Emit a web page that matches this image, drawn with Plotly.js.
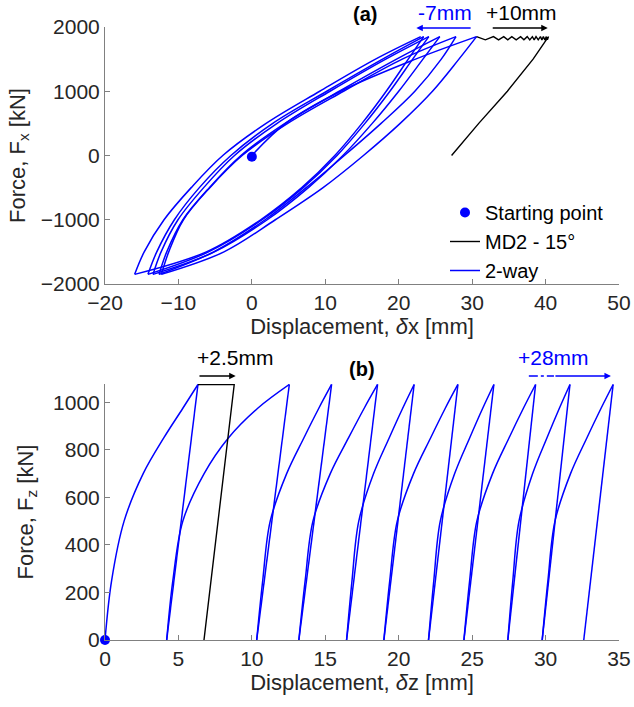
<!DOCTYPE html>
<html>
<head>
<meta charset="utf-8">
<script src="https://cdn.plot.ly/plotly-3.0.1.min.js"></script>
<style>
  html, body { margin: 0; padding: 0; background: #fff; }
  #chart { width: 634px; height: 707px; }
</style>
</head>
<body>
<div id="chart"></div>
<script>
// ---------------- Panel (a): horizontal force vs displacement ----------------
// Initial loading from the starting point
const fxInitLevels = [0, 500, 1000, 1500, 1850];
const dxInit = [0, 4.6, 12.1, 22.3, 30.6];
// Unloading branches (top tip -> bottom tip): displacement at each force level
const fxUnloadLevels = [1850, 1500, 1000, 500, 0, -500, -1000, -1500, -1850];
const dxUnload1 = [30.6, 28.2, 24.6, 20.2, 15.2, 9.7, 3.2, -3.8, -12.32];
const dxUnload2 = [27.8, 25.8, 22.2, 17.6, 12.6, 7.4, 1.8, -5.2, -12.64];
const dxUnload3 = [25.6, 23.3, 20.0, 16.4, 12.4, 7.7, 2.1, -5.1, -13.46];
const dxUnload4 = [24.1, 21.9, 18.8, 15.4, 11.6, 7.0, 1.4, -5.9, -14.15];
const dxUnload5 = [23.4, 21.3, 18.3, 15.0, 11.3, 6.8, 1.2, -6.2, -15.96];
// Reloading branches (bottom tip -> next top tip)
const fxLoadLevels = [-1850, -1500, -1000, -500, 0, 500, 1000, 1500, 1850];
const dxLoad2 = [-12.32, -11.32, -9.32, -5.72, -1.32, 4.88, 12.48, 20.48, 27.8];
const dxLoad3 = [-12.64, -11.59, -9.39, -5.79, -1.49, 4.51, 11.91, 19.71, 25.6];
const dxLoad4 = [-13.46, -12.36, -10.06, -6.56, -2.36, 3.44, 10.64, 18.24, 24.1];
const dxLoad5 = [-14.15, -12.95, -10.55, -7.15, -2.85, 2.85, 10.2, 17.8, 23.4];
const dxLoad6 = [-15.96, -14.66, -11.96, -8.26, -3.96, 1.94, 9.24, 16.84, 23.0];
// MD2 - 15° : ratcheting sawtooth at peak force, then unloading
const dxMD2 = [30.6, 31.8, 32.9, 33.6, 34.3, 34.85, 35.4, 36.0, 36.6, 37.05, 37.5, 37.85,
               38.2, 38.45, 38.7, 39.0, 39.3, 39.5, 39.7, 39.9, 40.1, 40.25, 40.4,
               38.3, 34.8, 30.9, 27.2];
const fxMD2 = [1850, 1800, 1850, 1800, 1850, 1800, 1850, 1800, 1850, 1800, 1850, 1800,
               1850, 1800, 1850, 1800, 1850, 1800, 1850, 1800, 1850, 1800, 1850,
               1500, 1000, 500, 0];
const startA = {x: [0], y: [-20]};

// ---------------- Panel (b): vertical force vs displacement ----------------
const fzLevels = [0, 250, 500, 700, 850, 975, 1075];
const fzTop = 1075;
const dzTips = [6.33, 12.55, 15.43, 18.56, 21.05, 24.03, 26.48, 29.32, 31.66, 34.6];
const dzBottoms = [0, 4.2, 10.33, 13.2, 16.45, 18.99, 22.03, 24.44, 27.43, 29.77, 32.6];
const dzLoad0 = [0, 0.45, 1.3, 2.6, 4.0, 5.3, 6.33];
const dzLoad1 = [4.2, 4.62, 5.3, 6.75, 8.4, 10.4, 12.55];
const dzLoad2 = [10.33, 10.74, 11.25, 12.37, 13.54, 14.56, 15.43];
const dzLoad3 = [13.2, 13.63, 14.16, 15.34, 16.58, 17.65, 18.56];
const dzLoad4 = [16.45, 16.82, 17.28, 18.29, 19.35, 20.27, 21.05];
const dzLoad5 = [18.99, 19.39, 19.9, 21.01, 22.17, 23.17, 24.03];
const dzLoad6 = [22.03, 22.39, 22.83, 23.81, 24.83, 25.72, 26.48];
const dzLoad7 = [24.44, 24.83, 25.32, 26.39, 27.51, 28.49, 29.32];
const dzLoad8 = [27.43, 27.77, 28.19, 29.12, 30.09, 30.94, 31.66];
const dzLoad9 = [29.77, 30.16, 30.64, 31.7, 32.81, 33.78, 34.6];
const dzMD2 = [6.33, 8.8, 6.74];
const fzMD2 = [1075, 1075, 0];
const startB = {x: [0], y: [0]};

// ---------------- Build paths ----------------
function appendSeg(path, xs, ys) {
  if (path.x.length) { path.x.push(null); path.y.push(null); }
  for (let i = 0; i < xs.length; i++) { path.x.push(xs[i]); path.y.push(ys[i]); }
}
const pathA = {x: [], y: []};
appendSeg(pathA, dxInit, fxInitLevels);
const unloads = [dxUnload1, dxUnload2, dxUnload3, dxUnload4, dxUnload5];
const loads = [dxLoad2, dxLoad3, dxLoad4, dxLoad5, dxLoad6];
for (let k = 0; k < unloads.length; k++) {
  appendSeg(pathA, unloads[k], fxUnloadLevels);
  appendSeg(pathA, loads[k], fxLoadLevels);
}
const pathB = {x: [], y: []};
const loadsZ = [dzLoad0, dzLoad1, dzLoad2, dzLoad3, dzLoad4, dzLoad5, dzLoad6, dzLoad7, dzLoad8, dzLoad9];
for (let k = 0; k < loadsZ.length; k++) {
  appendSeg(pathB, loadsZ[k], fzLevels);
  appendSeg(pathB, [dzTips[k], dzBottoms[k + 1]], [fzTop, 0]);
}

const BLUE = '#0000ff';
const traces = [
  {x: pathA.x, y: pathA.y, xaxis: 'x', yaxis: 'y', mode: 'lines', name: '2-way',
   line: {color: BLUE, width: 1.5, shape: 'spline', smoothing: 1}, connectgaps: false,
   legendrank: 3, hoverinfo: 'skip'},
  {x: dxMD2, y: fxMD2, xaxis: 'x', yaxis: 'y', mode: 'lines', name: 'MD2 - 15°',
   line: {color: '#000000', width: 1.4}, legendrank: 2, hoverinfo: 'skip'},
  {x: startA.x, y: startA.y, xaxis: 'x', yaxis: 'y', mode: 'markers', name: 'Starting point',
   marker: {color: BLUE, size: 10}, cliponaxis: false, legendrank: 1, hoverinfo: 'skip'},
  {x: pathB.x, y: pathB.y, xaxis: 'x2', yaxis: 'y2', mode: 'lines', showlegend: false,
   line: {color: BLUE, width: 1.5, shape: 'spline', smoothing: 1}, connectgaps: false, hoverinfo: 'skip'},
  {x: dzMD2, y: fzMD2, xaxis: 'x2', yaxis: 'y2', mode: 'lines', showlegend: false,
   line: {color: '#000000', width: 1.4}, hoverinfo: 'skip'},
  {x: startB.x, y: startB.y, xaxis: 'x2', yaxis: 'y2', mode: 'markers', showlegend: false,
   marker: {color: BLUE, size: 10}, cliponaxis: false, hoverinfo: 'skip'}
];

const AX = '#808080';
const TXT = '#262626';
function axisBase() {
  return {showline: true, linecolor: AX, linewidth: 1, ticks: 'inside', ticklen: 5,
          tickcolor: AX, tickwidth: 1, showgrid: false, zeroline: false,
          tickfont: {size: 21, color: TXT}, mirror: false, fixedrange: true};
}

const M = {l: 105, r: 15, t: 27, b: 67};
const H = 707 - M.t - M.b;
const W = 634 - M.l - M.r;
const py = p => (707 - M.b - p) / H;   // pixel row -> paper y
const px = p => (p - M.l) / W;          // pixel col -> paper x

function label(text, x, y, color, size) {
  return {text: text, xref: 'paper', yref: 'paper', x: px(x), y: py(y), xanchor: 'center', yanchor: 'middle',
          showarrow: false, font: {size: size, color: color}};
}
function arrow(xref, head, tail, y, color) {
  return {text: '', xref: xref, yref: 'paper', x: head, y: py(y), axref: xref, ax: tail, ayref: 'pixel', ay: 0,
          showarrow: true, arrowhead: 2, arrowsize: 1, arrowwidth: 1.3, arrowcolor: color};
}

const layout = {
  width: 634, height: 707, margin: M,
  paper_bgcolor: '#ffffff', plot_bgcolor: '#ffffff',
  font: {family: 'Liberation Sans, Arial, sans-serif', size: 21, color: TXT},
  showlegend: true,
  legend: {x: px(445), y: py(193), xanchor: 'left', yanchor: 'top',
           bgcolor: 'rgba(0,0,0,0)', font: {size: 20, color: '#000'}, tracegroupgap: 0},
  xaxis: Object.assign(axisBase(), {domain: [0, 1], anchor: 'y', range: [-20, 50],
    tickvals: [-20, -10, 0, 10, 20, 30, 40, 50],
    title: {text: 'Displacement, <i>δ</i>x [mm]', font: {size: 22, color: TXT}, standoff: 0}}),
  yaxis: Object.assign(axisBase(), {domain: [py(284), 1], anchor: 'x', range: [-2000, 2000],
    tickvals: [-2000, -1000, 0, 1000, 2000],
    title: {text: 'Force, F<sub>x</sub> [kN]', font: {size: 22, color: TXT}, standoff: 9}}),
  xaxis2: Object.assign(axisBase(), {domain: [0, 1], anchor: 'y2', range: [0, 35],
    tickvals: [0, 5, 10, 15, 20, 25, 30, 35],
    title: {text: 'Displacement, <i>δ</i>z [mm]', font: {size: 22, color: TXT}, standoff: 3}}),
  yaxis2: Object.assign(axisBase(), {domain: [0, py(384)], anchor: 'x2', range: [0, 1077],
    tickvals: [0, 200, 400, 600, 800, 1000],
    title: {text: 'Force, F<sub>z</sub> [kN]', font: {size: 22, color: TXT}, standoff: 13}}),
  annotations: [
    label('<b>(a)</b>', 365, 14, '#000', 20),
    label('-7mm', 445, 12, BLUE, 21),
    label('+10mm', 521, 12, '#000', 21),
    arrow('x', 22.4, 30.0, 28, BLUE),
    arrow('x', 40.3, 32.6, 28, '#000'),
    label('<b>(b)</b>', 362, 369, '#000', 20),
    label('+2.5mm', 235, 357, '#000', 21),
    label('+28mm', 553, 357, BLUE, 21),
    arrow('x2', 8.9, 6.33, 376, '#000'),
    arrow('x2', 34.45, 30.57, 376, BLUE)
  ],
  shapes: [
    {type: 'line', xref: 'x2', yref: 'paper', x0: 28.86, x1: 30.57, y0: py(376), y1: py(376),
     line: {color: BLUE, width: 1.3, dash: 'dashdot'}}
  ]
};

Plotly.newPlot('chart', traces, layout, {staticPlot: true, displayModeBar: false});
</script>
</body>
</html>
